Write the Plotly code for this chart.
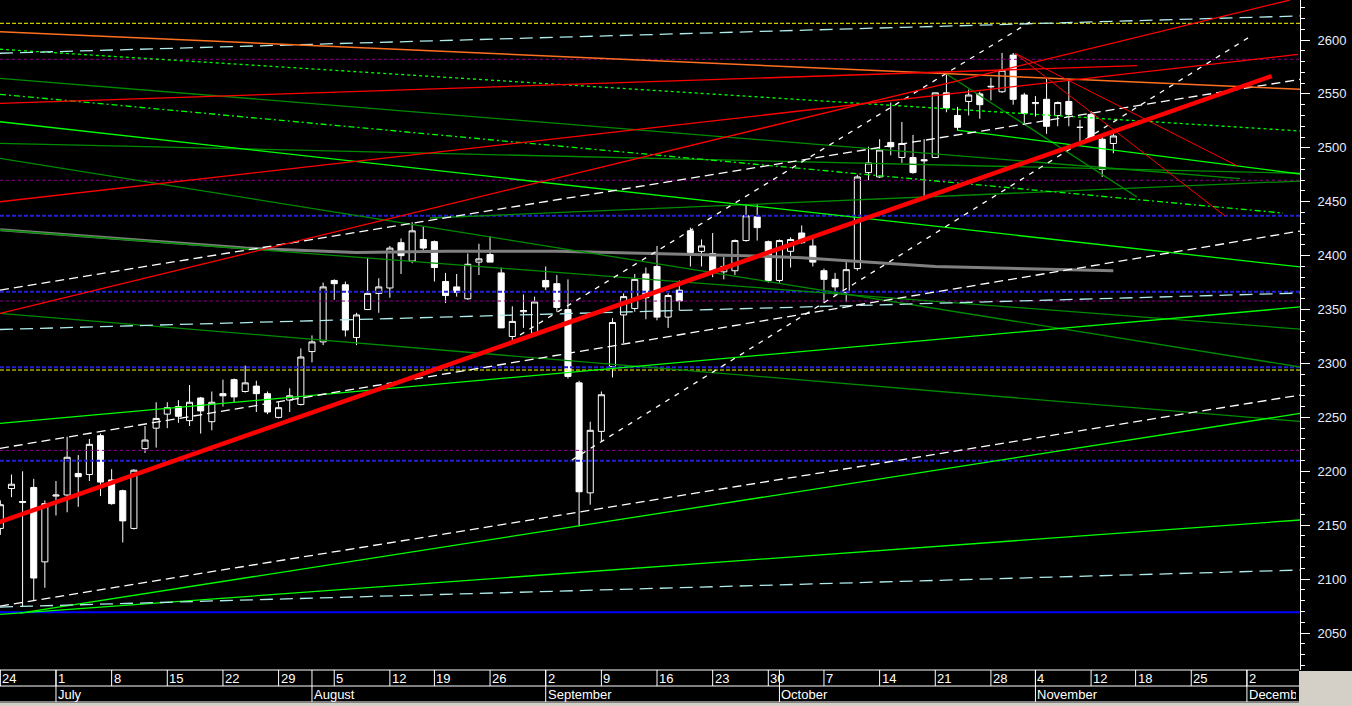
import plotly.graph_objects as go

# ---------------- data ----------------
OPEN = [2147, 2184, 2171, 2185, 2116, 2177, 2178, 2198, 2197, 2233,
        2192, 2182, 2147, 2221, 2240, 2253, 2260, 2247, 2268, 2246,
        2272, 2285, 2274, 2279, 2272, 2250, 2266, 2262, 2311, 2320,
        2377, 2373, 2324, 2350, 2365, 2370, 2412, 2395, 2415, 2413,
        2376, 2371, 2360, 2394, 2401, 2384, 2325, 2348, 2328, 2377,
        2374, 2350, 2282, 2180, 2237, 2297, 2345, 2351, 2383, 2390,
        2343, 2368, 2423, 2404, 2402, 2385, 2386, 2414, 2436, 2413,
        2377, 2404, 2421, 2409, 2386, 2378, 2366, 2388, 2477, 2473,
        2505, 2491, 2491, 2489, 2491, 2551, 2530, 2543, 2550, 2556.5,
        2552, 2586, 2549, 2541, 2545, 2530, 2543, 2519, 2531, 2508,
        2504]
HIGH = [2173, 2197, 2200, 2193, 2173, 2191, 2232, 2215, 2230, 2235,
        2202, 2183, 2202, 2242, 2264, 2264, 2266, 2280, 2269, 2274,
        2285, 2286, 2298, 2284, 2274, 2264, 2277, 2314, 2326, 2375,
        2378, 2376, 2347, 2398, 2379, 2409, 2416, 2431, 2427, 2414,
        2384, 2383, 2402, 2411, 2418, 2389, 2353, 2364, 2362, 2390,
        2382, 2378, 2284, 2246, 2274, 2342, 2365, 2383, 2389, 2409,
        2365, 2377, 2426, 2415, 2421, 2399, 2415, 2448, 2448, 2414,
        2415, 2417, 2428, 2416, 2388, 2384, 2394, 2475, 2501, 2508,
        2542, 2524, 2512, 2508, 2551, 2568, 2538, 2554, 2552, 2565,
        2588, 2588, 2551, 2548, 2564, 2543, 2564, 2526, 2534, 2510,
        2515]
LOW = [2141, 2176, 2074, 2080, 2092, 2159, 2162, 2167, 2191, 2177,
       2169, 2134, 2146, 2217, 2222, 2240, 2245, 2242, 2235, 2238,
       2260, 2264, 2273, 2255, 2253, 2249, 2255, 2261, 2301, 2317,
       2359, 2325, 2317, 2350, 2347, 2361, 2383, 2393, 2405, 2376,
       2356, 2362, 2359, 2382, 2394, 2333, 2319, 2333, 2326, 2368,
       2348, 2286, 2149, 2169, 2228, 2287, 2319, 2348, 2341, 2340,
       2333, 2349, 2390, 2390, 2380, 2378, 2382, 2413, 2414, 2375,
       2375, 2389, 2411, 2390, 2356, 2363, 2357, 2386, 2470, 2472,
       2493, 2486, 2476, 2454, 2491, 2533, 2516, 2530, 2527, 2544,
       2551, 2540, 2523, 2529, 2513, 2520, 2520, 2503, 2507, 2473,
       2495]
CLOSE = [2169, 2188, 2172, 2101, 2170, 2178, 2213, 2195, 2225, 2190,
         2170, 2154, 2201, 2229, 2249, 2259, 2251, 2264, 2256, 2264,
         2270, 2269, 2282, 2272, 2255, 2259, 2270, 2306, 2320, 2371,
         2374, 2331, 2345, 2365, 2371, 2407, 2400, 2423, 2407, 2389,
         2363, 2366, 2392, 2397, 2394, 2333, 2339, 2349, 2357, 2371,
         2352, 2288, 2181, 2238, 2271, 2338, 2362, 2378, 2361, 2343,
         2363, 2358, 2403, 2409, 2385, 2390, 2414, 2437, 2426, 2377,
         2414, 2415, 2412, 2394, 2378, 2371, 2387, 2473, 2486, 2498,
         2501, 2504, 2477, 2488, 2551, 2537, 2519, 2549, 2540, 2557,
         2572, 2545, 2532, 2542, 2520, 2542, 2531, 2519, 2509, 2480,
         2511]

# trading-day index of each week label / month start
DAY_IDX = [0, 5, 10, 15, 20, 25, 30, 35, 39, 44, 49, 54, 59, 64, 69, 74, 79, 84, 89, 93, 98, 102, 107, 112]
DAY_TXT = ['24', '1', '8', '15', '22', '29', '5', '12', '19', '26', '2', '9', '16', '23', '30',
           '7', '14', '21', '28', '4', '12', '18', '25', '2']
MONTH_IDX = [5, 28, 49, 70, 93, 112]
MONTH_TXT = ['July', 'August', 'September', 'October', 'November', 'December']

# long moving-average (gray)
MA_IDX = [0, 12, 22, 32, 40, 50, 58, 67, 72, 75, 84, 100]
MA_VAL = [2424, 2415, 2407, 2403, 2404, 2404, 2402, 2400, 2398, 2396, 2390, 2386]

X_LO, X_HI = -0.03, 116.77
Y_LO, Y_HI = 2015.7, 2637.1

# trend lines: (x0, y0, x1, y1) in (trading-day index, price)
THICK_RED = [(-1.0, 2149.6, 114.23, 2566.6)]
RED_LINES = [(X_LO, 2450.0, 116.59, 2586.6),
             (X_LO, 2346.5, 115.87, 2637.1),
             (X_LO, 2541.3, 102.12, 2576.3)]
RED_FAN = [(91.16, 2587.7, 111.11, 2483.4),
           (91.16, 2587.7, 110.03, 2436.8)]
ORANGE_LINES = [(X_LO, 2607.7, X_HI, 2554.3)]
DKGREEN_LINES = [(X_LO, 2564.5, 111.38, 2471.4),
                 (X_LO, 2504.2, X_HI, 2476.4),
                 (X_LO, 2490.3, X_HI, 2296.7),
                 (X_LO, 2346.5, X_HI, 2246.2),
                 (X_LO, 2423.8, X_HI, 2331.9),
                 (38.60, 2434.9, X_HI, 2469.2),
                 (84.87, 2569.4, 102.12, 2454.4)]
GREEN_LINES = [(X_LO, 2524.2, X_HI, 2389.5),
               (X_LO, 2244.5, X_HI, 2352.4),
               (X_LO, 2067.3, X_HI, 2154.8),
               (1.77, 2068.5, X_HI, 2253.7),
               (85.95, 2516.5, X_HI, 2475.7)]
GREEN_DOT_LINES = [(X_LO, 2591.4, X_HI, 2515.6)]
GREEN_DASHDOT_LINES = [(X_LO, 2549.6, 115.24, 2439.5)]
WHITE_DASH_LINES = [(X_LO, 2368.1, X_HI, 2563.5),
                    (X_LO, 2221.3, X_HI, 2422.8),
                    (X_LO, 2075.0, X_HI, 2270.7)]
WHITE_FINE_LINES = [(51.36, 2210.5, 112.28, 2603.1),
                    (46.69, 2326.4, 92.51, 2616.7)]
CYAN_DASH_LINES = [(X_LO, 2587.7, X_HI, 2622.3),
                   (X_LO, 2331.5, X_HI, 2365.3),
                   (X_LO, 2074.1, X_HI, 2108.4)]

# horizontal levels
YELLOW_LEVELS = [2615.5, 2293.9]
PURPLE_LEVELS = [2582.1, 2469.9, 2357.9, 2219.4]
BLUE_DOT_LEVELS = [2437.0, 2366.6, 2296.4, 2209.8]
BLUE_SOLID_LEVELS = [2069.2]

# ---------------- figure ----------------
W, H = 1352, 706
PLOT_RIGHT = 1300
BAND_TOP, BAND_MID, BAND_BOT = 670, 686, 702


def py(y):
    return 1 - y / H


fig = go.Figure()

fig.add_trace(go.Candlestick(
    x=list(range(len(OPEN))), open=OPEN, high=HIGH, low=LOW, close=CLOSE,
    increasing=dict(line=dict(color='white', width=1), fillcolor='black'),
    decreasing=dict(line=dict(color='white', width=1), fillcolor='white'),
    whiskerwidth=0, showlegend=False, hoverinfo='skip'))


def add_lines(lines, color, width, dash='solid'):
    for x0, y0, x1, y1 in lines:
        fig.add_trace(go.Scatter(x=[x0, x1], y=[y0, y1], mode='lines',
                                 line=dict(color=color, width=width, dash=dash),
                                 showlegend=False, hoverinfo='skip'))


def add_levels(levels, color, width, dash):
    add_lines([(X_LO, v, X_HI, v) for v in levels], color, width, dash)


add_levels(BLUE_SOLID_LEVELS, '#0000ff', 2, 'solid')
add_levels(PURPLE_LEVELS, '#8a008a', 1, '3px,3px')
add_levels(BLUE_DOT_LEVELS, '#2020d8', 2, '4px,2px')
add_levels(YELLOW_LEVELS, '#ffff00', 1, '4px,2px')

fig.add_trace(go.Scatter(x=MA_IDX, y=MA_VAL, mode='lines',
                         line=dict(color='#808080', width=3),
                         showlegend=False, hoverinfo='skip'))

add_lines(DKGREEN_LINES, '#008c00', 1.3)
add_lines(GREEN_LINES, '#00ff00', 1.3)
add_lines(GREEN_DOT_LINES, '#00ff00', 1.3, '3px,3px')
add_lines(GREEN_DASHDOT_LINES, '#00ff00', 1.3, '6px,3px,2px,3px')
add_lines(CYAN_DASH_LINES, '#b0ecec', 1.3, '13px,7px')
add_lines(WHITE_DASH_LINES, '#ffffff', 1.3, '9px,5px')
add_lines(WHITE_FINE_LINES, '#ffffff', 1.3, '5px,6px')
add_lines(ORANGE_LINES, '#ff7020', 1.5)
add_lines(RED_LINES, '#ff0000', 1.3)
add_lines(RED_FAN, '#ff0000', 1)
add_lines(THICK_RED, '#ff0000', 4.5)

# ---------------- date band ----------------
shapes = []
band_r = (PLOT_RIGHT - 1) / W
for yy in (BAND_TOP, BAND_MID, BAND_BOT):
    shapes.append(dict(type='line', xref='paper', yref='paper', x0=0, x1=band_r,
                       y0=py(yy), y1=py(yy), line=dict(color='white', width=1)))
for d in DAY_IDX:
    shapes.append(dict(type='line', xref='x', yref='paper', x0=d, x1=d,
                       y0=py(BAND_MID), y1=py(BAND_TOP), line=dict(color='white', width=1)))
for m in MONTH_IDX:
    shapes.append(dict(type='line', xref='x', yref='paper', x0=m, x1=m,
                       y0=py(BAND_BOT), y1=py(BAND_TOP), line=dict(color='white', width=1)))
shapes.append(dict(type='rect', xref='paper', yref='paper', x0=0, x1=1, y0=0, y1=py(BAND_BOT + 1),
                   fillcolor='#d4d0c8', line=dict(width=0)))
shapes.append(dict(type='rect', xref='paper', yref='paper', x0=band_r, x1=1, y0=0, y1=py(BAND_TOP + 1),
                   fillcolor='#d4d0c8', line=dict(width=0)))

annotations = []
FONT = dict(family='Liberation Sans, Arial, sans-serif', size=13, color='white')
for d, t in zip(DAY_IDX, DAY_TXT):
    annotations.append(dict(x=d, y=py((BAND_TOP + BAND_MID) / 2 + 0.5), xref='x', yref='paper',
                            text=t, showarrow=False, xanchor='left', yanchor='middle',
                            xshift=1, font=FONT, borderpad=0))
for m, t in zip(MONTH_IDX, MONTH_TXT):
    ann = dict(x=m, y=py((BAND_MID + BAND_BOT) / 2 + 0.5), xref='x', yref='paper',
               text=t, showarrow=False, xanchor='left', yanchor='middle',
               xshift=1, font=FONT, borderpad=0, align='left')
    if m == MONTH_IDX[-1]:
        ann['width'] = 47
    annotations.append(ann)

fig.update_layout(
    width=W, height=H, margin=dict(l=0, r=0, t=0, b=0),
    paper_bgcolor='black', plot_bgcolor='black',
    showlegend=False, boxgap=0.22, hovermode=False,
    shapes=shapes, annotations=annotations,
    xaxis=dict(domain=[0, PLOT_RIGHT / W], range=[X_LO, X_HI], showgrid=False, zeroline=False,
               showticklabels=False, ticks='', showline=False,
               rangeslider=dict(visible=False), fixedrange=True),
    yaxis=dict(domain=[py(BAND_TOP), 1], range=[Y_LO, Y_HI], side='right',
               showgrid=False, zeroline=False, showline=True, linecolor='white', linewidth=1,
               ticks='outside', ticklen=9, tickwidth=1, tickcolor='white',
               tick0=2000, dtick=50, ticklabelstandoff=5,
               tickfont=dict(family='Liberation Sans, Arial, sans-serif', size=13, color='#e8ecff'),
               minor=dict(tick0=2000, dtick=10, ticks='outside', ticklen=4, tickcolor='white',
                          showgrid=False),
               fixedrange=True),
)

fig.write_html('out.html', config={'displayModeBar': False},
               post_script="document.body.style.margin='0';document.body.style.overflow='hidden';")
